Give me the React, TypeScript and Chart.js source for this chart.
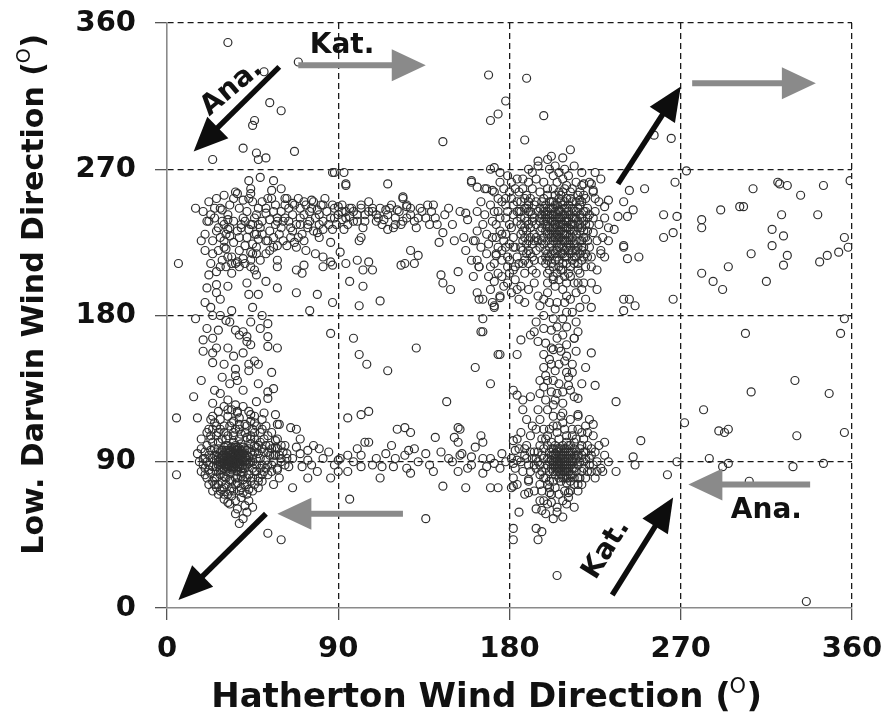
import React, { useEffect, useRef } from "react";
import { Chart, registerables } from "chart.js";

Chart.register(...registerables);

type P = [number, number];

// ---- axis ticks / titles ----
const tickValues = [0, 90, 180, 270, 360];
const xTitle = "Hatherton Wind Direction";
const yTitle = "Low. Darwin Wind Direction";

// ---- observations (Hatherton dir, Low. Darwin dir) ----
const swCore: P[] = [
  [30,90],[33,92],[36,94],[38,89],[35,87],[32,95],[29,93],[40,92],[37,97],[34,85],[31,88],[28,96],[39,86],[42,94],[36,100],[33,83],[27,90],[41,98],[35,91],[38,95],
  [30,99],[26,87],[43,89],[34,96],[32,86],[37,84],[39,101],[29,85],[36,89],[31,97],[40,88],[33,90],[35,98],[28,92],[42,91],[38,92],[34,88],[30,94],[37,90],[32,100],
  [44,96],[25,94],[36,86],[39,93],[31,91],[35,95],[27,98],[41,86],[33,97],[29,89],[38,98],[34,93],[36,92],[30,86],[40,95],[32,89],[37,87],[35,102],[28,88],[43,93],
  [31,84],[39,90],[33,94],[26,91],[36,97],[41,90],[34,91],[29,97],[38,87],[32,93],[35,89],[37,93],[30,92],[40,99],[33,87],[42,97],[27,93],[36,95],[31,100],[39,84],
  [34,99],[28,85],[35,93],[38,90],[32,91],[44,90],[30,88],[37,99],[33,92],[29,94],[41,93],[35,86],[36,91],[31,94],[39,97],[34,86],[26,96],[38,94],[32,97],[40,91],
  [36,88],[33,96],[30,90],[37,92],[35,90],[42,88],[28,90],[34,94],[31,87],[38,96],[29,91],[36,99],[33,89],[40,86],[35,96],[27,88],[39,95],[32,88],[37,95],[34,90]
];
const swHalo: P[] = [
  [20,92],[22,85],[18,98],[23,104],[21,80],[24,110],[19,88],[25,76],[47,92],[49,86],[50,98],[46,104],[48,80],[52,91],[45,110],[51,84],[44,78],[53,96],[46,100],[48,95],
  [26,106],[28,110],[30,108],[33,112],[36,110],[39,107],[42,105],[31,104],[35,106],[38,104],[27,102],[44,101],[29,78],[31,76],[34,74],[37,77],[40,79],[43,82],[26,80],[33,79],
  [36,80],[39,81],[30,81],[45,86],[24,87],[46,96],[23,97],[47,99],[22,94],[41,76],[35,72],[32,70],[38,72],[29,73],[28,116],[32,118],[35,115],[38,117],[41,113],[25,114],
  [44,115],[47,112],[49,108],[51,104],[54,100],[56,94],[55,88],[57,99],[58,86],[60,92],[53,82],[50,78],[48,74],[45,72],[42,70],[39,68],[36,66],[33,64],[30,67],[27,70],
  [24,72],[22,76],[20,82],[17,90],[16,95],[18,104],[21,108],[24,118],[27,121],[30,124],[34,122],[37,120],[40,124],[43,121],[46,118],[50,116],[52,112],[55,108],[58,104],[61,96],
  [59,80],[56,76]
];
const swRing: P[] = [
  [22,88],[24,92],[21,100],[23,83],[25,98],[26,84],[45,90],[47,88],[46,84],[48,100],[44,106],[43,98],[45,94],[24,102],[27,108],[29,104],[32,106],[35,108],[38,110],[41,108],
  [44,104],[46,108],[28,82],[31,80],[34,78],[37,80],[40,83],[42,80],[45,80],[27,76],[30,74],[33,72],[36,76],[39,74],[42,76],[25,80],[47,84],[49,92],[50,88],[51,96],
  [49,102],[52,86],[20,96],[19,92],[21,90],[23,106],[26,112],[30,112],[34,114],[38,113],[42,112],[46,114],[50,110],[53,106],[54,94],[55,98],[56,90],[53,88],[24,78],[28,72],
  [48,78],[50,82],[52,100],[22,110],[57,94],[58,98],[46,76],[43,73],[40,71],[34,69],[30,70],[26,74],[55,84],[57,103],[60,100],[62,88],[63,92],[59,94],[20,86],[18,84]
];
const swTail: P[] = [
  [32,65],[36,58],[43,66],[42,59],[40,55],[38,52],[53,46],[60,42],[45,62],[37,61],[41,63],[5,82]
];
const seCore: P[] = [
  [205,88],[208,92],[211,86],[204,95],[209,84],[213,90],[202,91],[207,98],[210,80],[206,86],[212,94],[203,84],[209,90],[214,86],[201,96],[207,82],[211,100],[205,92],[215,92],[204,88],
  [208,96],[210,88],[206,94],[212,82],[203,98],[209,86],[213,96],[200,88],[207,90],[211,92],[205,84],[216,88],[202,86],[208,100],[210,94],[206,80],[214,98],[204,92],[209,96],[212,88],
  [203,90],[207,86],[211,84],[205,98],[215,84],[201,90],[208,88],[210,98],[206,90],[213,92],[204,82],[209,80],[212,100],[202,94],[207,94],[211,88],[205,96],[214,94],[203,88],[208,84],
  [210,90],[206,98],[216,94],[204,86],[209,92],[212,96],[200,92],[207,78],[211,96],[205,90],[213,86],[202,98],[208,80],[210,84],[206,88],[214,90],[203,94],[209,98],[212,90],[207,92],
  [205,86],[211,80],[204,100],[215,96],[208,94],[201,84],[210,86],[206,84],[213,82],[209,88]
];
const seHalo: P[] = [
  [195,90],[197,84],[193,96],[196,100],[198,80],[194,86],[192,92],[199,104],[219,90],[221,84],[220,96],[218,100],[222,92],[217,80],[224,88],[223,98],[200,106],[205,108],[210,106],[215,104],
  [203,112],[208,114],[213,110],[198,110],[218,108],[200,76],[204,74],[209,72],[214,76],[218,76],[196,76],[206,70],[211,68],[216,72],[202,70],[190,88],[188,94],[187,84],[189,100],[191,106],
  [186,90],[226,90],[228,86],[230,94],[227,100],[225,80],[232,90],[190,78],[193,72],[196,66],[200,64],[205,62],[210,64],[214,62],[208,56],[199,58],[203,118],[208,120],[212,116],[216,118],
  [196,116],[192,112],[220,112],[224,106],[185,98],[183,86],[181,92],[184,104],[186,108],[182,80],[184,76],[188,70]
];
const seRing: P[] = [
  [196,88],[197,94],[198,98],[199,86],[198,92],[200,100],[202,102],[206,104],[210,102],[214,102],[217,98],[218,94],[219,86],[218,84],[217,90],[216,80],[214,80],[212,78],[199,80],[201,78],
  [203,78],[220,92],[219,96],[222,88],[221,100],[223,94],[194,92],[195,96],[193,88],[196,82],[197,104],[201,110],[205,112],[209,110],[213,106],[216,110],[219,104],[221,108],[197,72],[201,74],
  [212,72],[216,76],[220,80],[223,84],[191,96],[191,84],[189,92],[188,98],[225,96],[226,84]
];
const seLower: P[] = [
  [185,59],[182,49],[182,42],[195,42],[194,49],[197,47],[198,66],[197,60],[203,55],[205,59],[194,61],[190,71],[190,79],[182,75],[208,66],[211,71],[210,77],[201,71],[202,65],[205,20]
];
const neCore: P[] = [
  [200,235],[205,230],[210,238],[203,242],[208,226],[212,233],[198,228],[206,245],[214,240],[201,222],[209,250],[204,236],[211,228],[196,240],[207,232],[213,246],[199,248],[205,220],[215,230],[202,238],
  [208,242],[210,222],[197,234],[204,254],[212,252],[206,236],[200,244],[216,238],[203,226],[209,234],[195,226],[207,240],[211,244],[201,230],[214,224],[205,248],[198,238],[210,230],[204,232],[212,236],
  [199,220],[206,228],[208,256],[202,250],[215,244],[196,246],[209,238],[203,234],[211,240],[200,226],[207,224],[213,228],[205,242],[198,252],[210,246],[204,228],[216,234],[201,240],[208,230],[206,252],
  [194,236],[212,242],[203,246],[209,226],[199,232],[207,236],[214,232],[202,228],[205,238],[211,234],[197,242],[208,248],[204,240],[210,226],[200,238],[213,250],[206,232],[203,238],[209,242],[201,234],
  [215,226],[207,228],[205,234],[212,230],[198,244],[210,240],[204,244],[208,236],[202,232],[206,240],[211,248],[200,230],[214,236],[203,230],[207,244],[209,230],[205,226],[201,246],[212,226],[206,244],
  [204,236],[208,222],[210,234],[199,240],[213,240],[202,242],[207,250],[205,230],[211,238],[203,250],[209,246],[200,242]
];
const neCoreExtra: P[] = [
  [196,222],[199,212],[202,218],[205,224],[208,212],[211,220],[214,216],[217,226],[193,230],[195,244],[197,250],[200,254],[203,258],[206,256],[209,258],[212,256],[215,250],[217,242],[218,234],[194,220],
  [197,214],[200,206],[203,204],[206,210],[209,204],[212,210],[215,220],[218,214],[192,238],[194,250],[196,232],[198,224],[201,216],[204,214],[207,208],[210,216],[213,214],[216,222],[199,236],[202,224],
  [205,216],[208,218],[211,224],[214,244],[197,226],[200,218],[203,220],[206,222],[209,220],[212,222],[215,240],[198,246],[201,250],[204,248],[207,254],[210,252],[213,236],[196,238],[199,242],[202,246]
];
const neWiden: P[] = [
  [187,232],[188,240],[189,224],[190,248],[186,244],[188,252],[191,228],[189,218],[187,212],[190,236],[192,242],[193,226],[191,252],[189,246],[188,228],[190,220],[186,222],[192,216],[194,228],[193,240],
  [217,232],[218,240],[219,228],[220,236],[217,248],[219,238],[221,232],[218,226],[216,246],[220,244],[219,216],[217,218],[221,226],[218,250],[216,212],[220,210],[222,242],[219,232],[217,236],[218,220]
];
const neMore: P[] = [
  [186,236],[184,244],[182,222],[180,214],[178,222],[176,230],[174,244],[178,248],[181,252],[184,250],[187,226],[189,232],[191,244],[190,212],[188,206],[186,198],[184,196],[182,208],[179,210],[176,220],
  [173,228],[171,238],[170,248],[172,256],[175,262],[179,266],[183,258],[187,264],[190,270],[193,214],[192,224],[191,234],[193,248],[192,258],[194,206],[220,228],[221,246],[222,236],[219,254],[218,260],
  [220,218],[222,222],[217,206],[216,200],[218,196],[224,240],[226,226],[223,216],[225,252],[227,236],[168,230],[167,242],[169,224],[165,222],[163,232],[170,210],[174,206],[177,198],[181,194],[185,190],
  [188,188]
];
const neEdges: P[] = [
  [206,214],[210,212],[203,210],[212,218],[208,208],[215,216],[200,214],[205,206],[218,222],[199,216],[211,206],[204,218],[214,212],[209,216],[201,208],[207,218],[213,220],[202,212],[216,208],[206,202],
  [210,200],[204,198],[212,204],[208,196],[203,202],[200,200],[214,200],
  [200,258],[205,262],[210,260],[196,256],[213,258],[203,266],[208,264],[198,262],[215,262],[206,268],[201,270],[211,266],[194,264],[217,256],[204,272],[209,270]
];
const neLeftLobe: P[] = [
  [178,240],[182,248],[175,232],[185,256],[180,224],[176,250],[184,238],[172,244],[186,230],[179,216],[183,210],[174,222],[188,246],[181,234],[177,258],[187,220],[173,236],[185,244],[180,206],[176,214],
  [189,238],[182,228],[178,252],[184,216],[171,228],[186,250],[179,244],[175,240],[183,222],[188,234],[181,262],[177,226],[190,226],[174,252],[185,212],[180,236],[187,258],[176,204],[183,202],[179,200],
  [172,212],[189,254],[182,242],[178,230],[186,240],[190,244],[173,218],[184,264],[180,256],[188,214]
];
const neHalo: P[] = [
  [192,268],[190,262],[195,272],[222,262],[224,256],[220,252],[219,244],[221,240],[224,231],[219,222],[221,216],[223,210],[226,208],[219,200],[223,200],[217,185],[223,185],[214,166],[210,173],[195,275],
  [200,276],[208,277],[214,272],[218,268],[225,268],[228,264],[190,250],[191,218],[192,208],[193,200],[190,196],[195,192],[198,190],[205,188],[210,192],[215,194],[220,190],[226,196],[228,220],[230,240],
  [229,228],[227,250],[225,244],[232,234],[168,258],[165,250],[170,270],[160,262],[163,244],[166,236],[162,226],[168,218],[164,210],[170,196],[166,190],[172,186],[175,192],[169,204],[160,214]
];
const neRightTail: P[] = [
  [243,257],[251,258],[240,250],[232,251],[230,247],[237,241],[242,241],[245,245],[235,233],[232,226],[240,223],[240,222],[242,215],[248,216],[228,218],[230,216],[219,261],[223,261],[224,257],[216,254],
  [217,251],[240,190],[243,190],[246,186],[240,183]
];
const centreLeft: P[] = [
  [160,263],[163,259],[167,258],[171,257],[172,271],[175,268],[157,243],[158,239],[151,226],[156,228],[157,220],[161,226],[163,214],[164,210],[161,204],[153,207],[149,196],[163,194],[164,190],[171,188],
  [172,185],[175,191],[166,178],[166,170],[174,156],[172,201],[173,217]
];
const westCore: P[] = [
  [35,225],[38,220],[42,228],[34,216],[45,224],[37,232],[31,221],[40,215],[44,219],[33,229],[39,234],[46,230],[30,226],[41,223],[36,212],[48,227],[43,233],[32,233],[47,218],[38,228]
];
const westBand: P[] = [
  [25,240],[28,246],[30,236],[32,242],[26,232],[24,226],[22,238],[27,220],[29,214],[31,210],[24,218],[23,212],[20,230],[33,248],[35,252],[38,246],[40,240],[42,244],[44,236],[46,240],
  [48,246],[45,250],[43,252],[50,238],[52,246],[50,230],[47,222],[49,214],[46,208],[44,214],[52,226],[54,232],[56,244],[58,238],[57,248],[55,252],[60,244],[62,240],[59,230],[61,226],
  [64,246],[66,242],[68,236],[65,228],[63,252],[67,248],[70,246],[72,242],[74,236],[71,230],[69,252],[73,248],[76,246],[78,240],[80,236],[77,250],[81,248],[84,244],[86,240],[83,252],
  [88,246],[90,242],[92,248],[94,240],[96,246],[98,244],[100,238],[102,246],[104,242],[106,250],[108,244],[110,238],[112,246],[116,242],[118,248],[120,236],[122,244],[126,248],[128,242],[130,238],
  [133,246],[136,240],[139,244],[142,236],[146,242],[150,236],[154,244]
];
const westMore: P[] = [
  [18,226],[20,220],[19,244],[22,250],[26,252],[30,254],[28,228],[30,222],[32,216],[34,212],[38,210],[41,212],[45,218],[47,230],[48,236],[50,250],[53,252],[54,220],[56,228],[57,236],
  [60,234],[62,248],[64,238],[66,232],[69,228],[70,236],[72,226],[75,238],[77,232],[80,242],[82,238],[85,236],[87,248],[89,236],[92,244],[95,236],[98,238],[100,242],[104,238],[106,244],
  [110,242],[113,236],[117,246],[120,240],[124,238],[128,246],[132,240],[137,248],[141,240],[148,246],[27,234],[33,234],[39,236],[41,238],[35,238],[31,230],[29,238],[25,246]
];
const westScatter: P[] = [
  [15,246],[29,245],[23,242],[21,238],[32,239],[36,256],[37,255],[40,251],[44,255],[43,263],[44,258],[49,265],[56,263],[55,257],[60,258],[62,252],[66,249],[72,250],[76,251],[82,248],
  [90,247],[94,244],[97,246],[102,248],[108,246],[115,245],[121,245],[124,252],[126,247],[134,244],[140,248],[138,236],[145,231],[143,225],[144,205],[145,200],[131,234],[126,240],[123,236],[119,234],
  [114,239],[111,240],[116,233],[103,234],[101,226],[102,228],[96,241],[92,239],[93,233],[87,233],[82,233],[79,231],[80,228],[86,225],[91,219],[87,211],[82,210],[78,218],[73,220],[68,222],
  [67,225],[63,223],[58,223],[56,222],[53,226],[52,218],[49,234],[45,236],[47,242],[52,243],[54,239],[58,240],[61,238],[65,234],[74,234],[70,240],[75,244],[79,245],[88,240],[86,213],
  [82,216],[72,211],[71,206],[68,208],[58,210],[58,214],[52,201],[42,200],[43,193],[32,198],[26,194],[26,199],[21,197],[22,205],[26,207],[28,210],[34,206],[37,213],[44,210],[47,205],
  [58,197],[68,194],[79,193],[75,183],[87,188],[96,201],[103,198],[112,189],[101,186],[106,213],[108,208],[103,208],[100,214],[94,212],[123,211],[125,212],[130,212],[128,220],[132,217],[116,261],
  [87,268],[94,260],[86,169],[98,166],[101,156],[131,160],[6,212]
];
const westColumn: P[] = [
  [19,165],[24,166],[19,158],[24,157],[32,160],[40,157],[36,171],[40,170],[42,167],[42,164],[49,172],[53,175],[53,167],[53,161],[34,183],[31,177],[27,171],[23,185],[24,180],[36,147],
  [36,143],[37,140],[43,146],[48,138],[53,133],[53,129],[56,135],[24,151],[25,134],[28,132],[32,128],[36,125],[37,121],[24,126],[5,117],[16,117],[23,116],[32,122],[44,119],[51,120],
  [57,119],[59,113],[20,188],[28,190],[45,185],[50,180],[30,150],[46,152],[18,140],[14,130],[40,134],[47,127],[55,145],[58,160],[15,178],[48,193],
  [28,180],[33,176],[38,168],[44,162],[26,160],[21,172],[35,155],[43,150],[29,142],[33,138],[48,150],[44,176]
];
const southBand: P[] = [
  [95,117],[102,119],[106,121],[116,146],[105,150],[121,110],[125,111],[128,108],[127,97],[130,98],[136,95],[141,105],[147,127],[145,75],[136,55],[96,67],[112,80],[113,87],[119,87],[126,86],
  [128,83],[102,87],[95,84],[90,84],[91,92],[95,94],[104,102],[106,102],[102,94],[82,92],[79,84],[77,100],[74,97],[68,99],[74,80],[66,74],[65,111],[68,110],[58,113],[64,87],
  [63,95],[58,85],[71,87],[74,91],[90,91],[62,100],[66,92],[70,95],[60,90],[85,96],[88,88],[98,90],[110,92],[115,95],[120,92],[132,90],[138,88],[150,90],[155,95],[160,88],
  [162,148],[170,138],[153,111],[154,110],[151,105],[165,106],[166,102],[162,99],[153,102],[154,94],[160,93],[166,92],[170,92],[172,89],[153,84],[166,83],[157,74],[170,74],[174,74],[181,74],
  [182,103],[183,97],[182,89],[184,91],[178,90],[175,86],[176,95],[168,87],[158,86],[148,92],[144,96],[140,84],[125,94],[118,100],[108,88],[100,98],[86,80],[80,98],[76,88],[70,104]
];
const midColumn: P[] = [
  [198,148],[202,150],[199,143],[203,140],[210,145],[211,142],[211,137],[198,136],[202,133],[205,132],[214,130],[216,129],[225,137],[236,127],[187,128],[191,130],[182,134],[184,131],[187,122],[195,122],
  [200,122],[203,125],[208,126],[216,119],[222,116],[224,113],[230,102],[249,103],
  [202,171],[205,173],[199,163],[203,159],[207,158],[210,162],[193,170],[191,168],[186,165],[175,156],[184,156],[201,153],[223,157],[165,170],[214,166],[198,180],[204,184],[208,178],[196,186],[212,190],
  [200,194],[206,160],[209,152],[204,146],[196,140],[213,150],[198,156],[205,166],[210,182],[215,176],[194,176],[201,188],[206,138],[212,134],[199,128],[207,118],[194,110],[189,116],[218,138],[220,148],
  [215,158],[208,168],[206,150],[200,140],[213,145],[204,128],[208,133],[196,132],[210,155],[202,160],[216,170],[195,164],[203,178],[209,188],[198,172],[213,182]
];
const topStrays: P[] = [
  [32,348],[69,336],[51,330],[54,311],[60,306],[46,300],[45,297],[40,283],[24,276],[47,280],[67,281],[48,276],[52,277],[145,287],[169,328],[189,326],[178,312],[174,304],[170,300],[198,303],
  [188,288],[212,282],[202,278],[88,268],[93,268],[94,261],[124,253],[256,291],[265,289]
];
const eastUpper: P[] = [
  [273,269],[267,262],[261,242],[268,241],[261,228],[266,231],[308,258],[291,245],[301,247],[303,247],[281,239],[281,234],[321,262],[322,261],[326,260],[333,254],[345,260],[359,263],[323,242],[342,242],
  [318,233],[324,229],[318,223],[307,218],[326,217],[324,211],[356,228],[358,222],[353,219],[347,217],[343,213],[295,210],[281,206],[287,201],[292,196],[315,201],[266,190]
];
const eastLower: P[] = [
  [356,178],[354,169],[304,169],[330,140],[307,133],[348,132],[282,122],[272,114],[290,109],[293,108],[295,110],[331,106],[356,108],[285,92],[295,89],[345,89],[268,90],[292,87],[329,87],[245,93],
  [246,88],[229,84],[236,84],[263,82],[306,78],[336,4]
];

// ---- annotation arrows (tail -> tip, in data units) ----
const blackArrows: [P, P][] = [
  [[59, 333], [14, 281]],
  [[237, 261], [270, 321]],
  [[52, 58], [6, 5]],
  [[234, 8], [266, 68]]
];
const greyArrows: [P, P][] = [
  [[69, 334], [136, 334]],
  [[276, 323], [341, 323]],
  [[124, 58], [58, 58]],
  [[338, 76], [274, 76]]
];
const arrowLabels: { text: string; at: P; angle: number }[] = [
  { text: "Ana.", at: [34, 320], angle: -40 },
  { text: "Kat.", at: [92, 346], angle: 0 },
  { text: "Kat.", at: [231, 36], angle: -58 },
  { text: "Ana.", at: [315, 60], angle: 0 }
];

const allPoints: P[] = [
  ...swCore, ...swHalo, ...swRing, ...swTail, ...seCore, ...seHalo, ...seRing, ...seLower,
  ...neCore, ...neCoreExtra, ...neWiden, ...neMore, ...neEdges, ...neLeftLobe, ...neHalo, ...neRightTail, ...centreLeft,
  ...westCore, ...westBand, ...westMore, ...westScatter, ...westColumn, ...southBand, ...midColumn,
  ...topStrays, ...eastUpper, ...eastLower
];

const FONT = '"DejaVu Sans", "Liberation Sans", Arial, sans-serif';

function drawDegTitle(ctx: CanvasRenderingContext2D, text: string, tx: number, ty: number, rot: number, size: number) {
  ctx.save();
  ctx.translate(tx, ty);
  ctx.rotate(rot);
  ctx.fillStyle = "#111";
  ctx.textAlign = "left";
  ctx.textBaseline = "alphabetic";
  const mainFont = `bold ${size}px ${FONT}`;
  const supFont = `${Math.round(size * 0.62)}px ${FONT}`;
  const main = text + " (";
  ctx.font = mainFont;
  const w1 = ctx.measureText(main).width;
  const w3 = ctx.measureText(")").width;
  ctx.font = supFont;
  const w2 = ctx.measureText("O").width;
  let x = -(w1 + w2 + w3) / 2;
  ctx.font = mainFont;
  ctx.fillText(main, x, 0);
  x += w1 - size * 0.04;
  ctx.font = supFont;
  ctx.fillText("O", x, -size * 0.42);
  x += w2 + size * 0.02;
  ctx.font = mainFont;
  ctx.fillText(")", x, 0);
  ctx.restore();
}

const overlayPlugin = {
  id: "overlay",
  afterDatasetsDraw(chart: any) {
    const ctx: CanvasRenderingContext2D = chart.ctx;
    const xs = chart.scales.x;
    const ys = chart.scales.y;
    const px = (p: P) => [xs.getPixelForValue(p[0]), ys.getPixelForValue(p[1])];
    const drawArrow = (a: [P, P], color: string, lw: number, headLen: number, headW: number) => {
      const [x1, y1] = px(a[0]);
      const [x2, y2] = px(a[1]);
      const ang = Math.atan2(y2 - y1, x2 - x1);
      const c = Math.cos(ang);
      const s = Math.sin(ang);
      const bx = x2 - headLen * c;
      const by = y2 - headLen * s;
      ctx.save();
      ctx.strokeStyle = color;
      ctx.fillStyle = color;
      ctx.lineWidth = lw;
      ctx.lineCap = "butt";
      ctx.beginPath();
      ctx.moveTo(x1, y1);
      ctx.lineTo(bx + 2 * c, by + 2 * s);
      ctx.stroke();
      ctx.beginPath();
      ctx.moveTo(x2, y2);
      ctx.lineTo(bx + (headW / 2) * s, by - (headW / 2) * c);
      ctx.lineTo(bx - (headW / 2) * s, by + (headW / 2) * c);
      ctx.closePath();
      ctx.fill();
      ctx.restore();
    };
    blackArrows.forEach((a) => drawArrow(a, "#0d0d0d", 5.5, 34, 30));
    greyArrows.forEach((a) => drawArrow(a, "#8a8a8a", 6, 34, 32));
    arrowLabels.forEach((l) => {
      const [x, y] = px(l.at);
      ctx.save();
      ctx.translate(x, y);
      ctx.rotate((l.angle * Math.PI) / 180);
      ctx.font = `bold 28px ${FONT}`;
      ctx.fillStyle = "#111";
      ctx.textAlign = "center";
      ctx.textBaseline = "middle";
      ctx.fillText(l.text, 0, 0);
      ctx.restore();
    });
  },
  afterDraw(chart: any) {
    const ctx: CanvasRenderingContext2D = chart.ctx;
    drawDegTitle(ctx, xTitle, 487, 707, 0, 34);
    drawDegTitle(ctx, yTitle, 43, 294, -Math.PI / 2, 30);
  }
};

const zeroPad = (s: any) => {
  s.paddingTop = 0;
  s.paddingBottom = 0;
  s.paddingLeft = 0;
  s.paddingRight = 0;
};

export default function App() {
  const ref = useRef<HTMLCanvasElement | null>(null);
  useEffect(() => {
    if (!ref.current) return;
    const gridColor = (c: any) => (c.tick && c.tick.value === 0 ? "rgba(0,0,0,0)" : "#1a1a1a");
    const chart = new Chart(ref.current, {
      type: "scatter",
      data: {
        datasets: [
          {
            data: allPoints.map(([x, y]) => ({ x, y })),
            borderColor: "#2e2e2e",
            backgroundColor: "rgba(0,0,0,0)",
            borderWidth: 1.2,
            pointRadius: 4,
            pointHoverRadius: 4,
            pointStyle: "circle"
          }
        ]
      },
      options: {
        responsive: false,
        animation: false,
        devicePixelRatio: 1,
        layout: { padding: { top: 23, right: 30, left: 0, bottom: 0 } },
        plugins: { legend: { display: false }, tooltip: { enabled: false }, title: { display: false } },
        scales: {
          x: {
            type: "linear",
            min: 0,
            max: 360,
            afterBuildTicks: (s: any) => { s.ticks = tickValues.map((v) => ({ value: v })); },
            afterFit: (s: any) => { s.height = 108; zeroPad(s); },
            ticks: { font: { family: FONT, size: 29, weight: "bold" }, color: "#111", padding: 12, maxRotation: 0, autoSkip: false },
            grid: { color: gridColor, lineWidth: 1.3, drawTicks: true, tickLength: 12, tickColor: "#555", tickWidth: 1.3 },
            border: { display: true, color: "#8a8a8a", width: 1.6, dash: [6, 4] },
            title: { display: false }
          },
          y: {
            type: "linear",
            min: 0,
            max: 360,
            afterBuildTicks: (s: any) => { s.ticks = tickValues.map((v) => ({ value: v })); },
            afterFit: (s: any) => { s.width = 167; zeroPad(s); },
            ticks: { font: { family: FONT, size: 29, weight: "bold" }, color: "#111", padding: 19, autoSkip: false },
            grid: { color: gridColor, lineWidth: 1.3, drawTicks: true, tickLength: 12, tickColor: "#555", tickWidth: 1.3 },
            border: { display: true, color: "#8a8a8a", width: 1.6, dash: [6, 4] },
            title: { display: false }
          }
        }
      },
      plugins: [overlayPlugin]
    } as any);
    return () => chart.destroy();
  }, []);
  return (
    <div style={{ position: "absolute", left: 0, top: 0, width: 882, height: 716, background: "#fff" }}>
      <canvas ref={ref} width={882} height={716} style={{ display: "block", width: 882, height: 716 }} />
    </div>
  );
}
